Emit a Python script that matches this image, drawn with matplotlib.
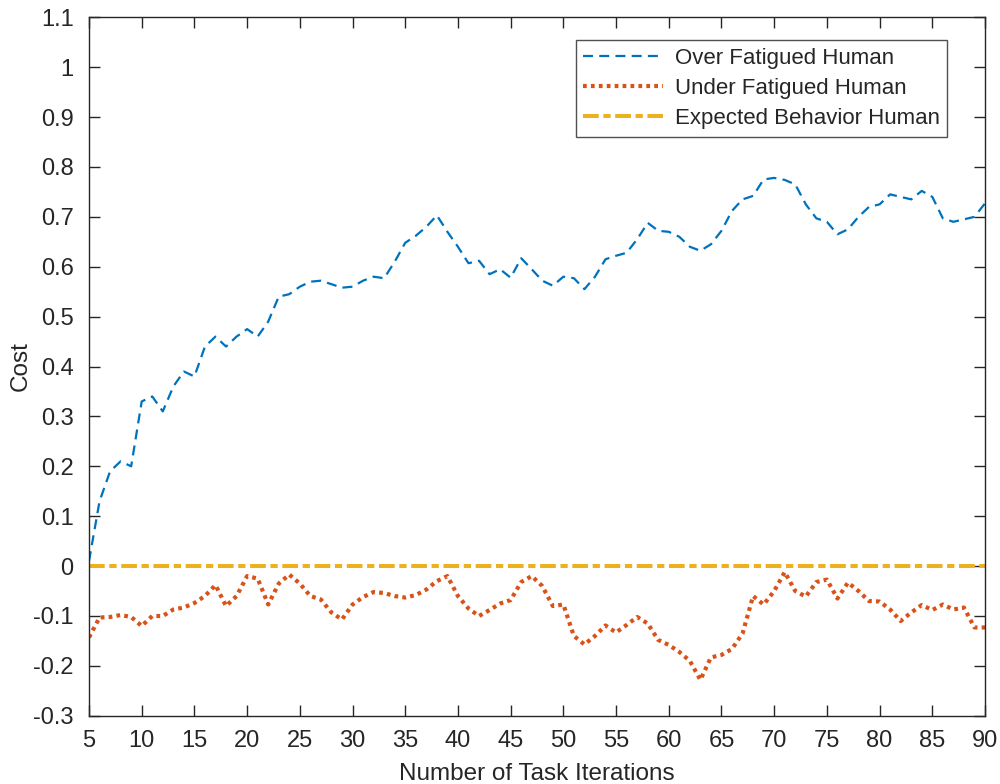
import numpy as np
import matplotlib
matplotlib.use("Agg")
import matplotlib.pyplot as plt

iterations = list(range(5, 91))
over_fatigued = [
    0.01, 0.13, 0.19, 0.21, 0.20, 0.33, 0.34, 0.31, 0.36, 0.39,
    0.38, 0.44, 0.46, 0.44, 0.46, 0.475, 0.46, 0.49, 0.54, 0.545,
    0.56, 0.57, 0.572, 0.565, 0.558, 0.56, 0.572, 0.58, 0.577, 0.61,
    0.648, 0.662, 0.68, 0.703, 0.67, 0.64, 0.607, 0.612, 0.585, 0.595,
    0.578, 0.617, 0.595, 0.572, 0.562, 0.58, 0.577, 0.555, 0.58, 0.615,
    0.622, 0.628, 0.655, 0.688, 0.672, 0.67, 0.66, 0.64, 0.632, 0.645,
    0.672, 0.712, 0.735, 0.742, 0.775, 0.778, 0.774, 0.765, 0.725, 0.697,
    0.69, 0.665, 0.675, 0.70, 0.72, 0.725, 0.745, 0.74, 0.735, 0.752,
    0.74, 0.697, 0.69, 0.695, 0.70, 0.727,
]
under_fatigued = [
    -0.143, -0.103, -0.102, -0.098, -0.102, -0.12, -0.10, -0.10, -0.087, -0.083,
    -0.074, -0.06, -0.038, -0.08, -0.06, -0.02, -0.025, -0.077, -0.035, -0.017,
    -0.035, -0.06, -0.067, -0.093, -0.107, -0.077, -0.062, -0.052, -0.054, -0.06,
    -0.063, -0.058, -0.047, -0.03, -0.02, -0.06, -0.085, -0.10, -0.088, -0.075,
    -0.068, -0.032, -0.02, -0.04, -0.08, -0.077, -0.14, -0.157, -0.14, -0.119,
    -0.133, -0.118, -0.102, -0.115, -0.148, -0.158, -0.172, -0.19, -0.228, -0.183,
    -0.178, -0.166, -0.135, -0.06, -0.077, -0.05, -0.012, -0.05, -0.061, -0.032,
    -0.027, -0.065, -0.033, -0.05, -0.07, -0.071, -0.087, -0.11, -0.093, -0.078,
    -0.088, -0.077, -0.087, -0.083, -0.123, -0.123,
]
expected = [0.0] * len(iterations)

series_labels = ["Over Fatigued Human", "Under Fatigued Human", "Expected Behavior Human"]
x_ticks = list(range(5, 91, 5))
y_ticks = [round(-0.3 + 0.1 * i, 1) for i in range(15)]
y_tick_labels = ["0" if abs(v) < 1e-9 else ("1" if v == 1.0 else f"{v:g}") for v in y_ticks]

plt.rcParams["font.family"] = ["Liberation Sans", "DejaVu Sans"]

fig = plt.figure(figsize=(10, 7.84), dpi=100)
ax = fig.add_axes([0.089, 0.087, 0.896, 0.891])

ax.plot(iterations, over_fatigued, color="#0072BD", linestyle=(0, (4.5, 2.8)), linewidth=1.6,
        label=series_labels[0])
ax.plot(iterations, under_fatigued, color="#D95319", linestyle=(0, (0.9, 1.0)), linewidth=3.0,
        label=series_labels[1])
ax.plot(iterations, expected, color="#EDB120", linestyle=(0, (3.9, 1.15, 1.8, 1.15)), linewidth=2.9,
        label=series_labels[2])

ax.set_xlim(5, 90)
ax.set_ylim(-0.3, 1.1)
ax.set_xticks(x_ticks)
ax.set_yticks(y_ticks)
ax.set_yticklabels(y_tick_labels)
ax.tick_params(direction="in", length=8, width=1, top=True, right=True,
               labelsize=17, colors="#262626")
ax.tick_params(axis="x", pad=10)
ax.tick_params(axis="y", pad=11)
for s in ax.spines.values():
    s.set_color("#262626")
    s.set_linewidth(1.0)

ax.set_xlabel("Number of Task Iterations", fontsize=17.5, color="#262626", labelpad=8)
ax.set_ylabel("Cost", fontsize=17.5, color="#262626", labelpad=1)

leg = ax.legend(loc="upper right", bbox_to_anchor=(0.958, 0.967), fontsize=16,
                frameon=True, fancybox=False, edgecolor="#262626", handlelength=3.6,
                borderaxespad=0.0, labelspacing=0.4, handletextpad=0.5, borderpad=0.35)
leg.get_frame().set_linewidth(1.0)
for t in leg.get_texts():
    t.set_color("#262626")

fig.savefig("out.png", dpi=100)
